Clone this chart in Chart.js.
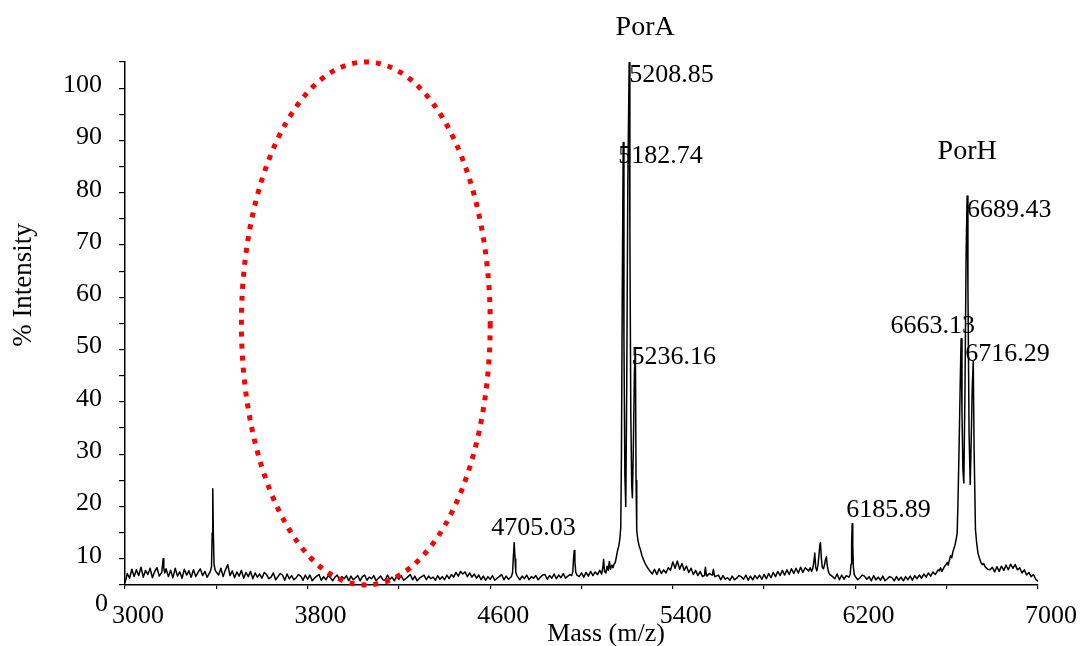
<!DOCTYPE html>
<html>
<head>
<meta charset="utf-8">
<title>PorA / PorH mass spectrum</title>
<script src="https://cdn.jsdelivr.net/npm/chart.js@4/dist/chart.umd.min.js"></script>
<style>
  html, body { margin: 0; padding: 0; background: #ffffff; }
  canvas { display: block; }
</style>
</head>
<body>
<canvas id="spectrum" width="1081" height="646"></canvas>
<script>
// ---- Data -------------------------------------------------------------

// Raw trace is sampled every 10 m/z from 3000 to 7000
const massStart = 3000;
const massStep = 10;

// Trace intensity (%), one value per sample
const traceIntensity = [
  5.4, 7.2, 6.3, 8.0, 6.6, 7.9, 6.8, 8.4, 6.5, 7.8, 7.0, 8.2, 6.4, 7.6, 8.3, 6.7, 7.9, 6.9, 8.1, 6.6,
  7.8, 6.4, 8.2, 6.7, 7.5, 6.3, 8.0, 6.9, 7.7, 6.5, 7.9, 6.6, 7.4, 8.1, 6.8, 7.6, 6.5, 7.9, 7.1, 8.0,
  8.6, 6.9, 8.2, 6.6, 7.9, 8.9, 6.8, 7.7, 6.4, 7.5, 6.7, 7.8, 6.3, 7.4, 6.6, 7.6, 6.2, 7.3, 6.5, 7.1,
  6.3, 7.4, 7.0, 6.2, 6.5, 7.3, 6.0, 6.6, 7.2, 6.9, 5.9, 7.1, 6.2, 6.8, 6.0, 6.4, 7.0, 6.7, 5.9, 6.9,
  6.1, 6.9, 5.8, 6.3, 6.7, 7.0, 5.9, 6.6, 6.0, 6.8, 6.4, 5.8, 6.5, 6.9, 5.9, 6.6, 6.2, 6.8, 5.8, 6.7,
  6.0, 6.4, 6.8, 5.8, 6.6, 6.9, 5.9, 6.5, 6.2, 6.8, 5.8, 6.3, 6.7, 6.0, 5.9, 6.9, 6.1, 6.5, 5.8, 6.7,
  6.1, 6.8, 5.9, 6.2, 6.6, 7.0, 6.0, 6.7, 5.8, 6.3, 6.6, 6.9, 6.0, 6.7, 6.2, 6.5, 5.9, 6.8, 6.1, 6.6,
  6.0, 6.9, 6.2, 7.0, 6.5, 7.4, 6.7, 7.6, 7.1, 7.5, 6.6, 7.3, 6.5, 7.1, 6.3, 6.9, 6.0, 6.7, 5.9, 6.6,
  6.1, 6.8, 5.9, 6.3, 6.6, 7.0, 6.0, 6.7, 6.1, 6.6, 6.9, 6.3, 6.8, 6.0, 6.7, 6.2, 6.9, 6.0, 6.6, 6.3,
  6.8, 6.0, 6.5, 6.9, 7.0, 6.1, 6.8, 6.3, 7.1, 6.2, 6.9, 6.4, 7.2, 6.3, 6.7, 7.0, 7.3, 6.4, 7.1, 6.6,
  7.3, 6.5, 7.4, 6.7, 7.6, 6.8, 7.5, 7.0, 7.8, 6.9, 7.7, 7.2, 7.9, 7.4, 8.3, 8.0, 8.6, 9.5, 10.5, 12.0,
  30.0, 25.0, 20.0, 15.0, 12.0, 11.0, 10.0, 9.5, 9.0, 8.3, 8.2, 7.1, 8.0, 7.0, 8.1, 7.2, 7.9, 7.3, 8.3, 7.8,
  9.4, 8.2, 9.6, 8.0, 9.1, 7.8, 8.6, 7.4, 8.2, 7.0, 7.8, 6.8, 7.6, 6.6, 7.3, 6.5, 7.2, 6.4, 7.0, 6.3,
  6.9, 6.0, 6.8, 6.1, 6.4, 5.9, 6.7, 6.0, 6.3, 6.8, 6.6, 6.1, 6.9, 5.9, 6.7, 6.0, 6.8, 6.2, 6.9, 6.1,
  7.0, 6.2, 7.2, 6.4, 7.4, 6.6, 7.6, 6.8, 7.8, 6.9, 7.9, 7.0, 8.1, 7.2, 8.2, 7.3, 8.4, 7.4, 8.3, 7.5,
  8.0, 7.8, 8.1, 7.9, 9.0, 12.0, 8.5, 9.0, 10.0, 8.0, 7.0, 6.2, 7.1, 6.0, 6.9, 6.1, 6.8, 5.9, 6.7, 6.2,
  6.8, 6.0, 6.4, 6.9, 6.7, 6.1, 6.6, 5.8, 6.8, 6.0, 6.5, 5.9, 6.7, 5.8, 6.2, 6.6, 6.4, 5.8, 6.6, 5.9,
  6.5, 5.8, 6.6, 6.0, 6.7, 5.9, 6.8, 6.2, 6.9, 6.3, 7.1, 6.5, 7.3, 6.7, 7.5, 7.0, 7.8, 7.3, 8.1, 7.7,
  9.3, 10.0, 11.0, 12.0, 14.0, 20.0, 40.0, 70.0, 40.0, 30.0, 25.0, 20.0, 15.0, 11.0, 10.0, 9.0, 8.8, 8.4, 8.2, 7.9,
  8.4, 7.5, 8.5, 7.6, 8.6, 7.8, 8.8, 7.9, 9.0, 8.2, 8.9, 7.9, 8.3, 7.3, 7.9, 6.9, 7.4, 6.6, 7.0, 6.1,
  5.7
];

// Finer readings around the sharp peaks (m/z, %)
const peakShapeMass = [
  3161, 3164, 3167, 3170, 3174,
  3374, 3379, 3382, 3384.5, 3387, 3390, 3395,
  4693, 4698, 4701, 4709, 4712, 4717,
  4957, 4962, 4965, 4968, 4971, 4975, 4980,
  5088, 5093, 5097, 5101, 5107, 5112, 5117, 5122, 5127, 5133, 5138, 5143, 5148, 5153, 5158, 5163, 5168,
  5172, 5175, 5178.5, 5186, 5190, 5194, 5198, 5203, 5212, 5216, 5220, 5223, 5227, 5232,
  5239, 5242, 5247, 5253, 5258, 5265, 5271, 5279, 5288, 5296,
  5537, 5540, 5543, 5546, 5550, 5572, 5575, 5578, 5581, 5585,
  5995, 6002, 6008, 6013, 6018, 6022, 6026, 6031, 6036, 6040, 6044, 6047, 6051, 6055, 6060, 6065,
  6069, 6073, 6077, 6082, 6088, 6095,
  6172, 6177, 6181, 6183.5, 6188.5, 6191, 6195, 6200,
  6556, 6562, 6568, 6573, 6579, 6585, 6591, 6597, 6602, 6607, 6612, 6617, 6622, 6627, 6631, 6636,
  6641, 6646, 6650, 6655, 6659, 6667, 6671, 6675, 6680, 6685, 6693, 6698, 6703, 6708, 6712,
  6720, 6726, 6731, 6737, 6743, 6749, 6756, 6762, 6767, 6773, 6779
];
const peakShapeIntensity = [
  7.4, 8.6, 10.0, 8.2, 7.3,
  7.6, 8.5, 15.0, 23.4, 15.0, 9.0, 7.8,
  6.6, 7.4, 10.0, 10.0, 7.5, 6.8,
  6.8, 7.6, 10.0, 11.6, 9.5, 7.4, 6.9,
  7.1, 8.2, 9.9, 7.6, 7.3, 8.6, 7.8, 9.5, 8.0, 8.8, 8.3, 9.0, 9.3, 10.4, 11.6, 12.4, 13.8,
  16.0, 30.0, 60.0, 52.0, 26.0, 20.0, 42.0, 82.0, 72.0, 38.0, 24.0, 21.7, 31.0, 46.0,
  25.0, 15.5, 13.6, 12.4, 11.8, 10.6, 9.9, 9.1, 8.4, 7.9,
  6.8, 7.4, 8.4, 7.2, 6.7, 6.9, 7.4, 8.0, 7.1, 6.6,
  7.7, 8.3, 7.6, 8.1, 9.4, 11.1, 8.4, 7.7, 8.8, 10.6, 12.6, 13.1, 10.0, 8.4, 8.1, 8.9,
  9.9, 10.4, 8.6, 7.5, 7.0, 6.8,
  6.5, 7.0, 9.0, 13.0, 12.5, 8.5, 7.0, 6.6,
  7.4, 7.9, 7.7, 8.3, 7.6, 8.1, 8.6, 8.9, 9.3, 8.8, 9.8, 10.6, 10.2, 11.3, 11.9, 12.6,
  13.6, 15.0, 22.0, 33.0, 43.0, 38.0, 27.0, 24.5, 42.0, 68.0, 62.0, 34.0, 24.2, 34.0, 43.0,
  31.0, 15.6, 13.2, 11.1, 10.2, 9.4, 8.9, 9.1, 8.6, 8.3, 8.0
];

// Labelled peak apexes (m/z, %)
const labelledMass = [4705.03, 5182.74, 5208.85, 5236.16, 6185.89, 6663.13, 6689.43, 6716.29];
const labelledIntensity = [13.1, 89.6, 104.9, 50.4, 16.7, 52.1, 79.4, 47.8];

// Protein groups and the apex each name sits over
const groupNames = ['PorA', 'PorH'];
const groupAnchorMass = [5208.85, 6689.43];

// Region circled as empty
const emptyRegionMass = [3510, 4600];
const emptyRegionIntensity = [5, 105];

// Axis ticks that carry labels
const massTickLabels = [3000, 3800, 4600, 5400, 6200, 7000];
const intensityTickLabels = [10, 20, 30, 40, 50, 60, 70, 80, 90, 100];

// ---- Text placement (pixels relative to each apex) --------------------
const peakLabelStyle = [
  { dx: -23, dy: -14, align: 'left' },   // 4705.03
  { dx: -5,  dy: 14,  align: 'left' },   // 5182.74
  { dx: 0,   dy: 13,  align: 'left' },   // 5208.85
  { dx: -4,  dy: 10,  align: 'left' },   // 5236.16
  { dx: -6,  dy: -14, align: 'left' },   // 6185.89
  { dx: 14,  dy: -12, align: 'right' },  // 6663.13
  { dx: 0,   dy: 14,  align: 'left' },   // 6689.43
  { dx: -8,  dy: -7,  align: 'left' }    // 6716.29
];
const groupLabelStyle = [
  { dx: 16, dy: -35 },
  { dx: 0,  dy: -44 }
];

const SERIF = "'Liberation Serif', 'Times New Roman', serif";
const TEXT_SIZE = 26;

// ---- Build the plotted trace -----------------------------------------
const detailPoints = peakShapeMass.map((m, i) => ({ x: m, y: peakShapeIntensity[i] }))
  .concat(labelledMass.map((m, i) => ({ x: m, y: labelledIntensity[i] })));

const tracePoints = [];
traceIntensity.forEach((v, i) => {
  const m = massStart + i * massStep;
  // coarse samples give way to the finer peak readings
  if (!detailPoints.some(d => Math.abs(d.x - m) < 6)) tracePoints.push({ x: m, y: v });
});
const spectrum = tracePoints.concat(detailPoints).sort((a, b) => a.x - b.x);

// ---- Overlay: circled region, peak labels, axis titles ---------------
const overlay = {
  id: 'overlay',
  afterDatasetsDraw(chart) {
    const { ctx, scales: { x, y } } = chart;
    const x0 = x.getPixelForValue(emptyRegionMass[0]);
    const x1 = x.getPixelForValue(emptyRegionMass[1]);
    const y0 = y.getPixelForValue(emptyRegionIntensity[0]);
    const y1 = y.getPixelForValue(emptyRegionIntensity[1]);
    ctx.save();
    ctx.beginPath();
    ctx.ellipse((x0 + x1) / 2, (y0 + y1) / 2, Math.abs(x1 - x0) / 2, Math.abs(y0 - y1) / 2, 0, 0, Math.PI * 2);
    ctx.strokeStyle = '#ff0000';
    ctx.lineWidth = 5;
    ctx.setLineDash([5, 7]);
    ctx.stroke();
    ctx.restore();
  },
  afterDraw(chart) {
    const { ctx, chartArea, scales: { x, y } } = chart;
    ctx.save();
    ctx.fillStyle = '#000000';
    ctx.textBaseline = 'middle';

    // peak m/z labels
    ctx.font = TEXT_SIZE + 'px ' + SERIF;
    labelledMass.forEach((m, i) => {
      const s = peakLabelStyle[i];
      ctx.textAlign = s.align;
      ctx.fillText(m.toFixed(2), x.getPixelForValue(m) + s.dx,
        y.getPixelForValue(labelledIntensity[i]) + s.dy);
    });

    // protein group names
    ctx.font = '28px ' + SERIF;
    ctx.textAlign = 'center';
    groupNames.forEach((name, i) => {
      const k = labelledMass.indexOf(groupAnchorMass[i]);
      const s = groupLabelStyle[i];
      ctx.fillText(name, x.getPixelForValue(groupAnchorMass[i]) + s.dx,
        y.getPixelForValue(labelledIntensity[k]) + s.dy);
    });

    // zero of the intensity scale, below the mass axis
    ctx.font = TEXT_SIZE + 'px ' + SERIF;
    ctx.textAlign = 'right';
    ctx.fillText('0', chartArea.left - 17, y.getPixelForValue(0) - 7);

    // axis titles
    ctx.textAlign = 'center';
    ctx.fillText('Mass (m/z)', chartArea.left + 481, chartArea.bottom + 49);
    ctx.translate(24, chartArea.top + 223);
    ctx.rotate(-Math.PI / 2);
    ctx.font = '27px ' + SERIF;
    ctx.fillText('% Intensity', 0, 0);
    ctx.restore();
  }
};

// ---- Chart ------------------------------------------------------------
Chart.defaults.font.family = SERIF;
Chart.defaults.color = '#000000';

new Chart(document.getElementById('spectrum'), {
  type: 'line',
  data: {
    datasets: [{
      data: spectrum,
      borderColor: '#000000',
      borderWidth: 1.5,
      borderJoinStyle: 'round',
      pointRadius: 0,
      tension: 0,
      fill: false
    }]
  },
  options: {
    responsive: false,
    animation: false,
    events: [],
    layout: { padding: { left: 0, right: 43, top: 62, bottom: 0 } },
    plugins: { legend: { display: false }, tooltip: { enabled: false } },
    scales: {
      x: {
        type: 'linear',
        min: 3000,
        max: 7000,
        border: { color: '#000000', width: 1.5 },
        grid: { drawOnChartArea: false, drawTicks: true, tickLength: 4, color: '#000000', lineWidth: 1.2 },
        ticks: {
          stepSize: 400,
          autoSkip: false,
          maxRotation: 0,
          padding: 12,
          labelOffset: 13,
          font: { size: TEXT_SIZE },
          color: '#000000',
          callback: v => massTickLabels.includes(v) ? String(v) : ''
        },
        afterFit: s => { s.height = 61; }
      },
      y: {
        type: 'linear',
        min: 5,
        max: 105,
        border: { color: '#000000', width: 1.5 },
        grid: { drawOnChartArea: false, drawTicks: true, tickLength: 6, color: '#000000', lineWidth: 1.2 },
        ticks: {
          stepSize: 5,
          autoSkip: false,
          padding: 17,
          labelOffset: -3,
          font: { size: TEXT_SIZE },
          color: '#000000',
          callback: v => intensityTickLabels.includes(v) ? String(v) : ''
        },
        afterFit: s => { s.width = 125; }
      }
    }
  },
  plugins: [overlay]
});
</script>
</body>
</html>
